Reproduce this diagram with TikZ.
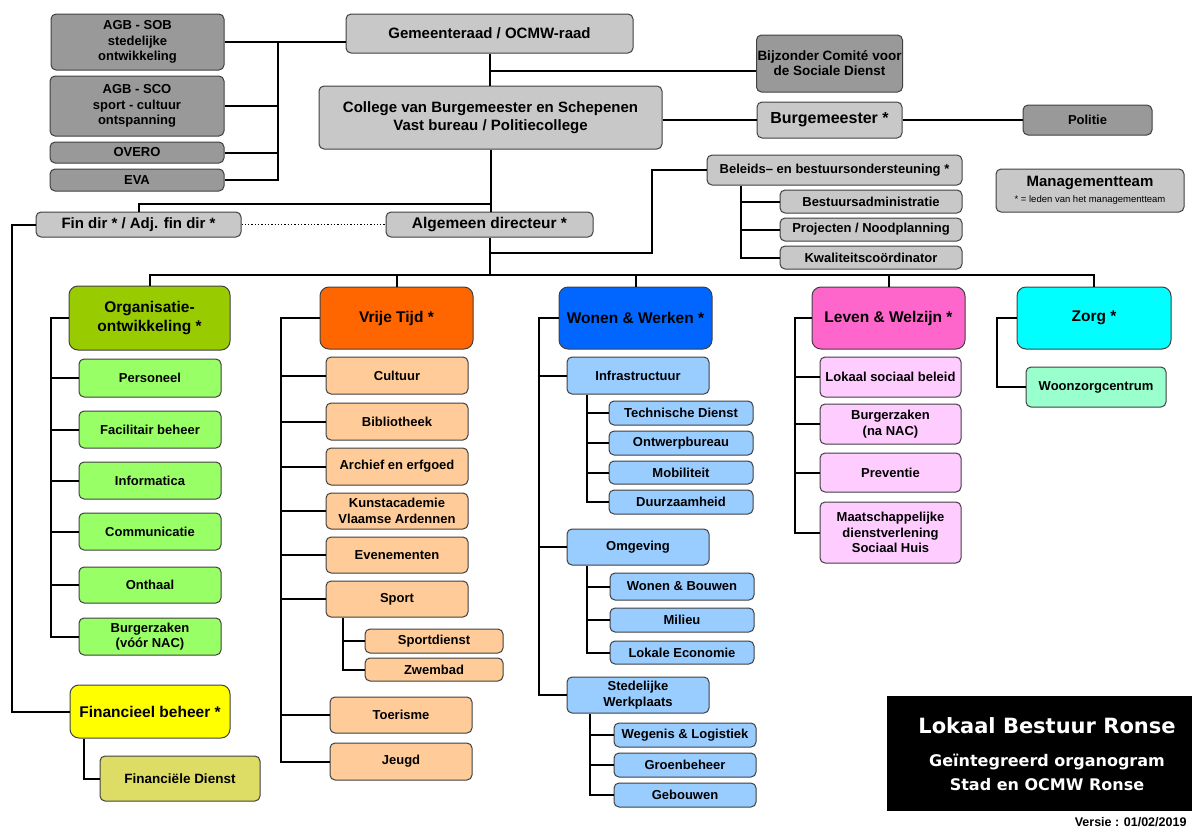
\documentclass[tikz,border=0pt]{standalone}
\usepackage{fontspec}
\setmainfont{Liberation Sans}
\newfontfamily\titlefont{DejaVu Sans}
\usepackage{tikz}
\usetikzlibrary{positioning, calc}

\definecolor{greyL}{RGB}{200,200,200}
\definecolor{greyD}{RGB}{153,153,153}
\definecolor{orgC}{RGB}{153,204,0}
\definecolor{orgS}{RGB}{153,255,102}
\definecolor{vtC}{RGB}{255,102,0}
\definecolor{vtS}{RGB}{255,204,153}
\definecolor{wwC}{RGB}{0,102,255}
\definecolor{wwS}{RGB}{153,204,255}
\definecolor{lwC}{RGB}{255,102,204}
\definecolor{lwS}{RGB}{255,204,255}
\definecolor{zoC}{RGB}{0,255,255}
\definecolor{zoS}{RGB}{153,255,204}
\definecolor{fbC}{RGB}{255,255,0}
\definecolor{fbS}{RGB}{221,221,102}

\begin{document}
\begin{tikzpicture}[x=1pt,y=-1pt,font=\bfseries\fontsize{13}{15.5}\selectfont]
\tikzset{
  box/.style={draw=black!75,line width=1pt,rounded corners=5pt,align=center,inner sep=1pt},
  light/.style={box,fill=greyL},
  dark/.style={box,fill=greyD},
  dept/.style={box,rounded corners=9pt,font=\bfseries\fontsize{15.5}{19}\selectfont},
  big/.style={font=\bfseries\fontsize{15}{18}\selectfont},
  link/.style={black,line width=2pt},
  dots/.style={black,line width=1.3pt,dotted},
  white text/.style={anchor=base,text=white}
}
% helper: box from its corners (x1,y1)-(x2,y2)
\newcommand{\pbox}[7]{% args: style, name, x1, y1, x2, y2, text
  \node[#1,minimum width={#5-#3},minimum height={#6-#4}] (#2) at ({(#3+#5)/2},{(#4+#6)/2}) {#7};
}
\useasboundingbox (0,0) rectangle (1192,828);

% ------ bestuur ------
\pbox{dark}{agbsob}{51}{14}{224}{70}{AGB - SOB\\stedelijke\\ontwikkeling}
\pbox{dark}{agbsco}{50}{76}{224}{136}{AGB - SCO\\sport - cultuur\\ontspanning}
\pbox{dark}{overo}{50}{142}{224}{163}{OVERO}
\pbox{dark}{eva}{50}{169}{224}{191}{EVA}
\pbox{light,big}{gr}{346}{14}{633}{53}{Gemeenteraad / OCMW-raad}
\pbox{light,big}{col}{319}{86}{662}{149}{College van Burgemeester en Schepenen\\Vast bureau / Politiecollege}
\pbox{dark,font=\bfseries\fontsize{13.5}{15}\selectfont}{bcsd}{757}{35}{902}{92}{Bijzonder Comité voor\\de Sociale Dienst}
\pbox{light,font=\bfseries\fontsize{16}{18}\selectfont}{burg}{757}{102}{902}{138}{Burgemeester *}
\pbox{dark}{pol}{1023}{105}{1152}{135}{Politie}
\pbox{light,big}{fin}{36}{212}{241}{237}{Fin dir * / Adj. fin dir *}
\pbox{light,font=\bfseries\fontsize{15.5}{18}\selectfont}{alg}{386}{212}{593}{237}{Algemeen directeur *}

% ------ beleid ------
\pbox{light}{bel}{707}{155}{962}{185}{Beleids– en bestuursondersteuning *}
\pbox{light}{bes}{780}{190}{962}{213}{Bestuursadministratie}
\pbox{light}{pro}{780}{218}{962}{241}{Projecten / Noodplanning}
\pbox{light}{kwa}{780}{246}{962}{269}{Kwaliteitscoördinator}
\pbox{light}{mt}{996}{169}{1184}{212}{{\fontsize{15}{16}\selectfont Managementteam}\\{\mdseries\fontsize{9.5}{11}\selectfont * = leden van het managementteam}}

% ------ departementen ------
\pbox{dept,fill=orgC}{org}{69}{286}{230}{350}{Organisatie-\\ontwikkeling *}
\pbox{dept,fill=vtC}{vt}{320}{287}{473}{349}{Vrije Tijd *}
\pbox{dept,fill=wwC}{ww}{559}{287}{712}{349}{Wonen \& Werken *}
\pbox{dept,fill=lwC}{lw}{812}{287}{965}{349}{Leven \& Welzijn *}
\pbox{dept,fill=zoC}{zo}{1017}{287}{1171}{349}{Zorg *}
\pbox{dept,fill=fbC}{fb}{70}{685}{230}{738}{Financieel beheer *}
\pbox{box,fill=fbS,font=\bfseries\fontsize{13.5}{15}\selectfont}{fd}{100}{756}{260}{801}{Financiële Dienst}

% ------ diensten ------
\foreach \n/\ya/\yb/\t in {pers/359/397/Personeel, fac/411/448/Facilitair beheer,
    inf/462/499/Informatica, com/513/550/Communicatie, ont/567/603/Onthaal,
    bz/618/655/{Burgerzaken\\(vóór NAC)}}
  {\pbox{box,fill=orgS}{\n}{79}{\ya}{221}{\yb}{\t}}
\foreach \n/\ya/\yb/\t in {cul/357/394/Cultuur, bib/403/440/Bibliotheek,
    arc/448/485/Archief en erfgoed, kun/493/529/{Kunstacademie\\Vlaamse Ardennen},
    eve/537/573/Evenementen, spo/581/617/Sport}
  {\pbox{box,fill=vtS}{\n}{326}{\ya}{468}{\yb}{\t}}
\pbox{box,fill=vtS}{spd}{365}{629}{503}{653}{Sportdienst}
\pbox{box,fill=vtS}{zwe}{365}{658}{503}{681}{Zwembad}
\pbox{box,fill=vtS}{toe}{330}{697}{472}{733}{Toerisme}
\pbox{box,fill=vtS}{jeu}{330}{743}{472}{780}{Jeugd}
\foreach \n/\ya/\yb/\t in {infra/357/394/Infrastructuur, omg/529/565/Omgeving,
    sw/677/713/{Stedelijke\\Werkplaats}}
  {\pbox{box,fill=wwS}{\n}{567}{\ya}{709}{\yb}{\t}}
\foreach \n/\ya/\yb/\t in {tech/401/425/Technische Dienst, ontw/431/455/Ontwerpbureau,
    mob/461/484/Mobiliteit, duur/490/514/Duurzaamheid}
  {\pbox{box,fill=wwS}{\n}{609}{\ya}{753}{\yb}{\t}}
\foreach \n/\ya/\yb/\t in {wb/573/600/{Wonen \& Bouwen}, mil/608/632/Milieu,
    lok/641/664/Lokale Economie}
  {\pbox{box,fill=wwS}{\n}{610}{\ya}{754}{\yb}{\t}}
\foreach \n/\ya/\yb/\t in {weg/723/747/{Wegenis \& Logistiek}, gro/753/777/Groenbeheer,
    geb/783/807/Gebouwen}
  {\pbox{box,fill=wwS}{\n}{614}{\ya}{756}{\yb}{\t}}
\foreach \n/\ya/\yb/\t in {lsb/357/397/Lokaal sociaal beleid, bzn/404/444/{Burgerzaken\\(na NAC)},
    pre/453/492/Preventie, mdv/502/563/{Maatschappelijke\\dienstverlening\\Sociaal Huis}}
  {\pbox{box,fill=lwS}{\n}{820}{\ya}{961}{\yb}{\t}}
\pbox{box,fill=zoS}{wzc}{1026}{367}{1166}{407}{Woonzorgcentrum}

% ------ verbindingen bestuur ------
\coordinate (agbrail) at (278,0);
\draw[link] (agbsob.east) -- (agbsob.east -| gr.west);
\draw[link] (agbsob.east -| agbrail) |- (eva.east);
\foreach \n in {agbsco,overo} \draw[link] (\n.east) -- (\n.east -| agbrail);
\draw[link] (gr.south) -- (gr.south |- col.north);
\coordinate (bcsdj) at (490,71);
\draw[link] (bcsdj) -- (bcsdj -| bcsd.west);
\draw[link] (col.east |- burg.west) -- (burg.west);
\draw[link] (burg.east) -- (pol.west);
\draw[link] (col.south) -- (col.south |- alg.north);
\coordinate (finj) at (490,204);
\draw[link] (finj) -| (fin.north);
\draw[dots] (fin.east) -- (alg.west);
\coordinate (finrail) at (12,0);
\draw[link] (fin.west) -- (fin.west -| finrail) |- (fb.west);
\coordinate (fbrail) at (84,0);
\draw[link] (fb.south -| fbrail) |- (fd.west);

% beleidsondersteuning
\coordinate (belj) at (490,253);
\coordinate (belrail) at (652,0);
\draw[link] (belj) -| (belrail |- bel.west) -- (bel.west);
\coordinate (belsub) at (741,0);
\draw[link] (bel.south -| belsub) |- (kwa.west);
\foreach \n in {bes,pro} \draw[link] (\n.west) -- (\n.west -| belsub);

% departementen
\coordinate (bar) at (0,275);
\draw[link] (alg.south) -- (alg.south |- bar);
\draw[link] (org.north) |- (bar -| zo.north) -- (zo.north);
\foreach \n in {vt,ww,lw} \draw[link] (\n.north) -- (\n.north |- bar);

% diensten
\coordinate (orgrail) at (51,0);
\draw[link] (org.west) -- (org.west -| orgrail) |- (bz.west);
\foreach \n in {pers,fac,inf,com,ont} \draw[link] (\n.west) -- (\n.west -| orgrail);
\coordinate (vtrail) at (281,0);
\draw[link] (vt.west) -- (vt.west -| vtrail) |- (jeu.west);
\foreach \n in {cul,bib,arc,kun,eve,spo,toe} \draw[link] (\n.west) -- (\n.west -| vtrail);
\coordinate (sporail) at (343,0);
\draw[link] (spo.south -| sporail) |- (zwe.west);
\draw[link] (spd.west) -- (spd.west -| sporail);
\coordinate (wwrail) at (539,0);
\draw[link] (ww.west) -- (ww.west -| wwrail) |- (sw.west);
\foreach \n in {infra,omg} \draw[link] (\n.west) -- (\n.west -| wwrail);
\coordinate (infrail) at (587,0);
\draw[link] (infra.south -| infrail) |- (duur.west);
\foreach \n in {tech,ontw,mob} \draw[link] (\n.west) -- (\n.west -| infrail);
\draw[link] (omg.south -| infrail) |- (lok.west);
\foreach \n in {wb,mil} \draw[link] (\n.west) -- (\n.west -| infrail);
\coordinate (swrail) at (590,0);
\draw[link] (sw.south -| swrail) |- (geb.west);
\foreach \n in {weg,gro} \draw[link] (\n.west) -- (\n.west -| swrail);
\coordinate (lwrail) at (795,0);
\draw[link] (lw.west) -- (lw.west -| lwrail) |- (mdv.west);
\foreach \n in {lsb,bzn,pre} \draw[link] (\n.west) -- (\n.west -| lwrail);
\coordinate (zorail) at (997,0);
\draw[link] (zo.west) -- (zo.west -| zorail) |- (wzc.west);

% ------ titel ------
\pbox{fill=black}{kader}{887}{696}{1192}{811}{}
\node[white text,font=\titlefont\bfseries\fontsize{21}{24}\selectfont] (titel) at (1047,733) {Lokaal Bestuur Ronse};
\node[white text,font=\titlefont\bfseries\fontsize{16}{20}\selectfont] (sub1) at (1047,766) {Geïntegreerd organogram};
\node[white text,font=\titlefont\bfseries\fontsize{16}{20}\selectfont] (sub2) at (1047,790) {Stad en OCMW Ronse};
\node[anchor=base east,font=\bfseries\fontsize{12.5}{14}\selectfont] (versie) at (1190,826) {Versie : 01/02/2019};
\end{tikzpicture}
\end{document}
